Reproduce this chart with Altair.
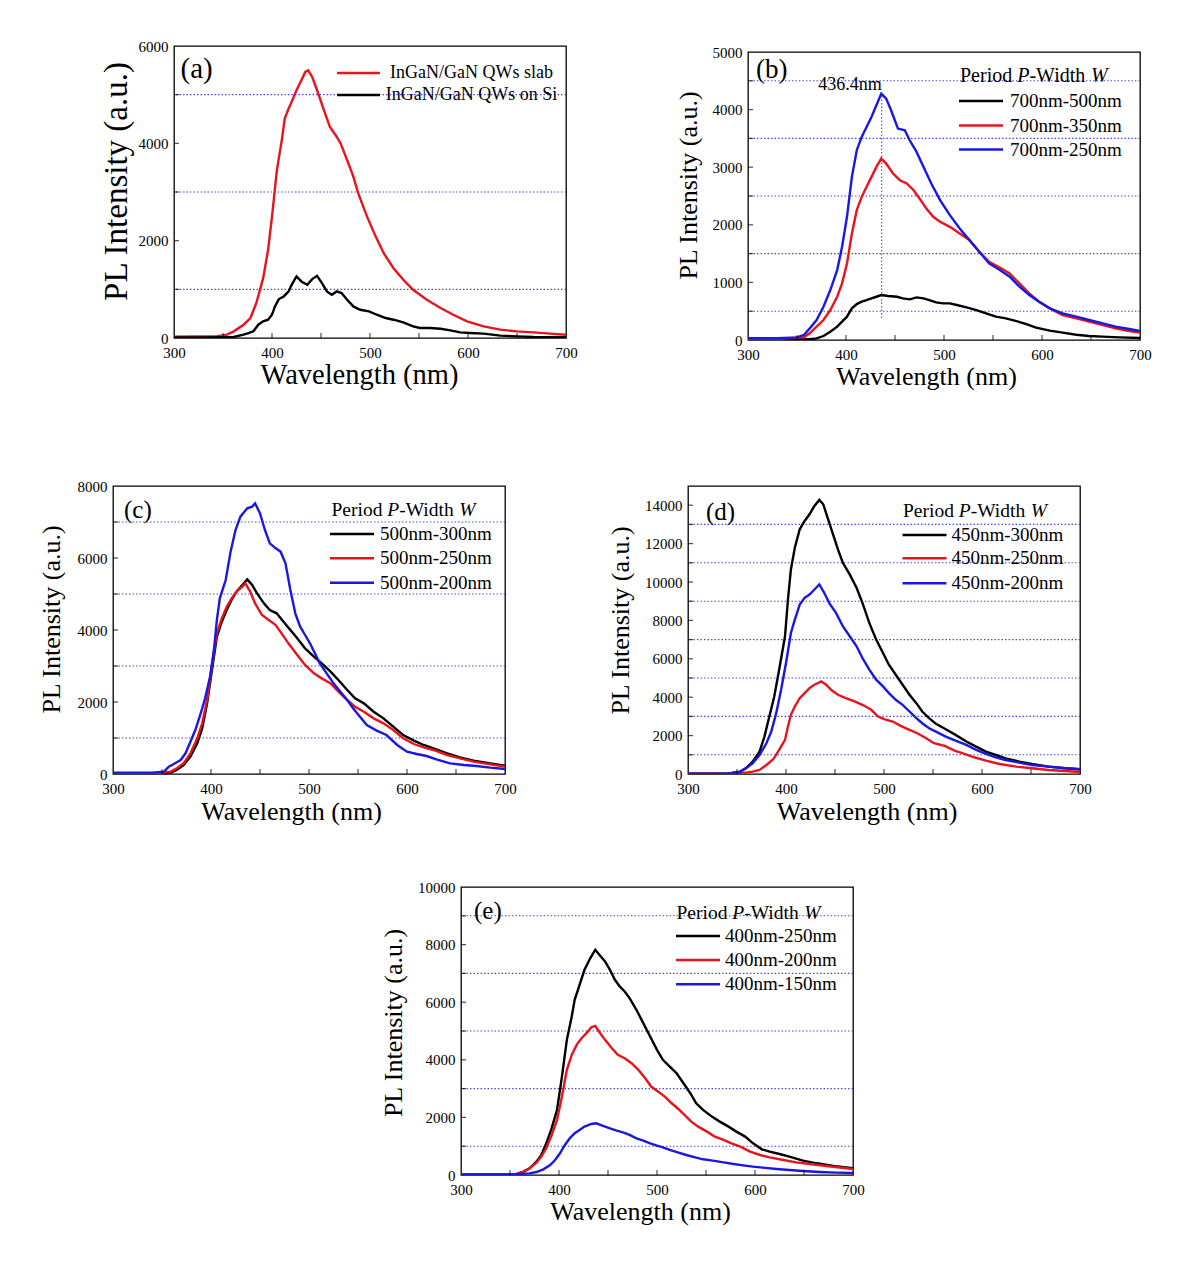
import altair as alt
import pandas as pd

FONT = "Liberation Serif"
RED = "#e8141c"
BLUE = "#1818e0"
BLACK = "#000000"
GRID = "#4a4ad0"

X_LABELS = [300, 400, 500, 600, 700]
X_TICKS = [350, 400, 450, 500, 550, 600, 650]

# ---------------- panel (a) ----------------
A_NAMES = ["InGaN/GaN QWs slab", "InGaN/GaN QWs on Si"]
A_WL_SLAB = [300, 320, 343, 354, 361, 371, 378, 384, 391, 396, 400, 405, 410, 413, 417, 420, 425, 430, 434, 437,
             441, 446, 453, 459, 466, 470, 476, 483, 488, 497, 505, 514, 524, 534, 544, 558, 572, 585, 599, 616,
             633, 650, 667, 684, 700]
A_SLAB = [25, 30, 30, 70, 137, 273, 410, 718, 1230, 1811, 2494, 3451, 4066, 4510, 4716, 4852, 5091, 5296, 5467, 5501,
          5365, 5091, 4681, 4340, 4135, 3998, 3690, 3315, 2973, 2494, 2119, 1743, 1435, 1196, 991, 786, 615, 478, 342, 239,
          171, 137, 116, 89, 68]
A_WL_SI = [300, 330, 361, 371, 376, 381, 386, 391, 396, 400, 403, 407, 412, 417, 420, 425, 430, 436, 441, 446,
           451, 456, 461, 466, 471, 476, 483, 490, 499, 507, 516, 524, 534, 544, 551, 561, 572, 582, 592, 602,
           616, 633, 650, 667, 700]
A_SI = [10, 10, 20, 68, 100, 137, 273, 342, 376, 478, 649, 800, 854, 957, 1093, 1264, 1162, 1093, 1210, 1278,
        1128, 957, 888, 957, 923, 800, 649, 581, 547, 478, 410, 376, 321, 239, 205, 205, 191, 157, 116, 103,
        89, 48, 34, 20, 14]
A_Y_LABELS = [0, 2000, 4000, 6000]
A_GRID = [1000, 3000, 5000]

# ---------------- panel (b) ----------------
B_NAMES = ["700nm-500nm", "700nm-350nm", "700nm-250nm"]
B_WL_500 = [300, 340, 363, 370, 377, 384, 391, 396, 401, 406, 411, 416, 421, 426, 431, 436, 443, 452, 458, 465,
            472, 479, 485, 492, 499, 506, 513, 523, 533, 543, 553, 563, 574, 584, 594, 608, 621, 635, 648, 662,
            679, 700]
B_500 = [15, 15, 12, 29, 69, 145, 231, 318, 405, 549, 624, 665, 694, 722, 751, 780, 763, 751, 722, 705,
         740, 722, 694, 653, 636, 636, 607, 566, 520, 462, 405, 376, 329, 277, 214, 162, 127, 92, 69, 58,
         46, 35]
B_WL_350 = [300, 330, 357, 363, 370, 377, 384, 391, 396, 401, 406, 411, 416, 421, 426, 431, 436, 441, 448, 455,
            462, 469, 475, 482, 489, 496, 506, 516, 526, 536, 546, 557, 567, 577, 587, 597, 608, 621, 635, 648,
            662, 675, 689, 700]
B_350 = [20, 20, 46, 116, 231, 347, 520, 751, 983, 1329, 1850, 2254, 2485, 2659, 2832, 3006, 3150, 3063, 2890, 2774,
         2717, 2601, 2457, 2283, 2139, 2052, 1965, 1850, 1734, 1532, 1358, 1260, 1156, 983, 809, 665, 549, 433, 376, 318,
         260, 202, 156, 127]
B_WL_250 = [300, 330, 350, 357, 363, 370, 377, 384, 391, 396, 401, 406, 411, 416, 421, 426, 431, 436, 441, 446,
            453, 460, 465, 472, 479, 487, 496, 506, 516, 526, 536, 546, 557, 567, 577, 587, 597, 608, 621, 635,
            648, 662, 675, 689, 700]
B_250 = [30, 30, 46, 87, 202, 347, 578, 867, 1214, 1618, 2139, 2832, 3295, 3526, 3699, 3873, 4075, 4277, 4191, 3988,
         3670, 3641, 3468, 3266, 3006, 2717, 2428, 2168, 1936, 1734, 1532, 1329, 1214, 1098, 925, 780, 665, 549, 462, 405,
         347, 289, 231, 191, 156]
B_Y_LABELS = [0, 1000, 2000, 3000, 4000, 5000]
B_GRID = [500, 1500, 2500, 3500, 4500]
B_PEAK_WL = [436.4]
B_PEAK_LOW = [380]
B_PEAK_HIGH = [4290]
B_PEAK_TEXT = ["436.4nm"]
B_PEAK_TEXT_Y = [4340]

# ---------------- panel (c) ----------------
C_NAMES = ["500nm-300nm", "500nm-250nm", "500nm-200nm"]
C_WL_300 = [300, 340, 359, 365, 372, 379, 386, 391, 396, 399, 403, 406, 411, 416, 421, 426, 432, 437, 442, 447,
            454, 460, 467, 474, 481, 488, 496, 505, 513, 522, 530, 539, 547, 556, 566, 576, 586, 596, 607, 617,
            627, 641, 654, 668, 685, 700]
C_300 = [10, 10, 37, 111, 250, 481, 852, 1268, 1963, 2518, 3259, 3815, 4231, 4555, 4833, 5065, 5250, 5407, 5250, 5018,
         4740, 4555, 4463, 4231, 4000, 3768, 3491, 3259, 3074, 2843, 2611, 2333, 2102, 1963, 1731, 1546, 1315, 1083, 926, 806,
         713, 574, 463, 370, 296, 231]
C_WL_250 = [300, 340, 359, 365, 372, 379, 386, 391, 396, 399, 403, 406, 411, 416, 421, 426, 432, 435, 440, 445,
            452, 459, 466, 472, 479, 488, 496, 505, 513, 522, 530, 539, 547, 556, 566, 576, 586, 596, 607, 617,
            627, 641, 654, 668, 685, 700]
C_250 = [10, 10, 65, 157, 296, 574, 991, 1407, 2055, 2611, 3398, 3907, 4324, 4648, 4880, 5065, 5204, 5296, 5065, 4740,
         4417, 4278, 4139, 3907, 3630, 3306, 3028, 2796, 2657, 2518, 2287, 2055, 1870, 1731, 1546, 1407, 1222, 991, 833, 741,
         667, 528, 435, 343, 269, 204]
C_WL_200 = [300, 340, 352, 357, 362, 369, 374, 379, 384, 389, 394, 399, 403, 406, 409, 415, 420, 425, 430, 437,
            442, 445, 450, 455, 460, 466, 471, 476, 481, 486, 491, 496, 501, 506, 511, 518, 525, 532, 539, 545,
            552, 559, 569, 579, 590, 600, 610, 620, 630, 644, 658, 671, 685, 700]
C_200 = [37, 37, 65, 204, 278, 389, 574, 898, 1222, 1639, 2102, 2704, 3444, 4278, 4880, 5389, 6176, 6778, 7148, 7379,
         7426, 7518, 7241, 6778, 6407, 6268, 6176, 5852, 5111, 4463, 4092, 3861, 3630, 3352, 3074, 2796, 2518, 2287, 2055, 1824,
         1593, 1361, 1204, 1083, 806, 620, 556, 500, 407, 296, 250, 222, 176, 139]
C_Y_LABELS = [0, 2000, 4000, 6000, 8000]
C_GRID = [1000, 3000, 5000, 7000]

# ---------------- panel (d) ----------------
D_NAMES = ["450nm-300nm", "450nm-250nm", "450nm-200nm"]
D_WL_300 = [300, 340, 353, 359, 366, 373, 378, 383, 388, 393, 399, 402, 405, 409, 414, 419, 424, 429, 434, 438,
            443, 448, 453, 458, 465, 472, 478, 485, 492, 499, 505, 512, 519, 526, 533, 539, 546, 553, 563, 573,
            584, 594, 604, 614, 624, 638, 651, 668, 685, 700]
D_300 = [20, 20, 122, 296, 644, 1166, 1950, 2995, 4039, 5432, 7173, 9088, 10655, 11787, 12744, 13179, 13528, 13963, 14276, 14050,
         13266, 12483, 11700, 11003, 10394, 9697, 8914, 7869, 6999, 6302, 5693, 5171, 4648, 4126, 3691, 3256, 2907, 2612, 2333, 2037,
         1689, 1428, 1166, 992, 818, 644, 522, 383, 296, 244]
D_WL_250 = [300, 350, 359, 366, 373, 380, 387, 393, 399, 402, 405, 409, 414, 419, 424, 429, 436, 441, 446, 453,
            461, 470, 478, 487, 494, 500, 509, 517, 526, 534, 543, 551, 562, 572, 582, 592, 604, 618, 635, 651,
            668, 685, 700]
D_250 = [10, 10, 70, 122, 209, 470, 766, 1254, 1776, 2472, 3082, 3517, 3952, 4213, 4474, 4648, 4822, 4648, 4387, 4126,
         3952, 3778, 3604, 3343, 2995, 2855, 2733, 2507, 2298, 2124, 1863, 1602, 1462, 1219, 1045, 871, 696, 522, 383, 296,
         209, 157, 104]
D_WL_200 = [300, 340, 353, 359, 366, 373, 380, 385, 390, 395, 400, 405, 409, 414, 419, 424, 429, 434, 439, 444,
            451, 458, 465, 472, 478, 485, 492, 499, 505, 512, 519, 526, 533, 539, 546, 553, 563, 573, 584, 594,
            604, 614, 624, 638, 651, 668, 685, 700]
D_200 = [20, 20, 104, 296, 557, 992, 1602, 2211, 3169, 4387, 5780, 7347, 8043, 8827, 9175, 9349, 9610, 9871, 9436, 8914,
         8392, 7695, 7173, 6651, 6041, 5432, 4910, 4561, 4213, 3865, 3604, 3256, 2907, 2646, 2385, 2211, 1950, 1741, 1515, 1254,
         1045, 871, 731, 592, 470, 383, 296, 244]
D_Y_LABELS = [0, 2000, 4000, 6000, 8000, 10000, 12000, 14000]
D_GRID = [1000, 3000, 5000, 7000, 9000, 11000, 13000]

# ---------------- panel (e) ----------------
E_NAMES = ["400nm-250nm", "400nm-200nm", "400nm-150nm"]
E_WL_250 = [300, 340, 357, 364, 370, 377, 382, 387, 392, 398, 403, 408, 413, 416, 421, 426, 432, 437, 442, 447,
            452, 457, 462, 467, 472, 479, 486, 493, 500, 506, 513, 520, 527, 534, 540, 547, 556, 564, 573, 581,
            590, 598, 607, 615, 625, 635, 649, 663, 680, 700]
E_250 = [25, 25, 35, 116, 232, 463, 695, 1101, 1564, 2259, 3418, 4693, 5504, 6083, 6605, 7126, 7532, 7821, 7613, 7416,
         7126, 6778, 6547, 6373, 6141, 5736, 5272, 4809, 4345, 3998, 3766, 3534, 3186, 2839, 2491, 2259, 2028, 1854, 1680, 1506,
         1333, 1101, 892, 811, 730, 637, 498, 406, 313, 232]
E_WL_200 = [300, 340, 357, 364, 370, 377, 382, 387, 392, 398, 403, 408, 413, 418, 423, 428, 433, 437, 442, 447,
            454, 460, 467, 474, 481, 488, 494, 501, 508, 515, 522, 528, 535, 542, 551, 559, 568, 576, 585, 595,
            605, 615, 629, 642, 656, 673, 700]
E_200 = [25, 25, 35, 116, 232, 429, 637, 927, 1333, 1912, 2723, 3650, 4171, 4519, 4751, 4924, 5133, 5179, 4924, 4693,
         4403, 4171, 4056, 3882, 3650, 3360, 3071, 2897, 2723, 2491, 2283, 2086, 1854, 1680, 1506, 1333, 1217, 1101, 985, 811,
         695, 614, 521, 440, 382, 313, 209]
E_WL_150 = [300, 350, 370, 377, 384, 391, 396, 401, 406, 411, 416, 421, 426, 433, 438, 445, 452, 459, 466, 472,
            479, 486, 493, 500, 506, 513, 522, 530, 539, 547, 557, 568, 578, 588, 598, 608, 622, 635, 649, 666,
            683, 700]
E_150 = [20, 20, 58, 104, 197, 348, 521, 753, 1043, 1275, 1448, 1564, 1680, 1773, 1796, 1703, 1622, 1541, 1472, 1390,
         1275, 1193, 1101, 1020, 962, 869, 776, 695, 614, 545, 498, 440, 382, 336, 290, 255, 209, 174, 139, 104,
         81, 70]
E_Y_LABELS = [0, 2000, 4000, 6000, 8000, 10000]
E_GRID = [1000, 3000, 5000, 7000, 9000]

W = 392


def text_layer(txt, x, y, size, align="left", baseline="alphabetic", style="normal"):
    return alt.Chart(pd.DataFrame({"t": [txt]})).mark_text(
        font=FONT, fontSize=size, align=align, baseline=baseline, color="black", fontStyle=style
    ).encode(text="t:N", x=alt.value(x), y=alt.value(y))


def legend_title(x, y, size):
    # "Period P-Width W" with italic P and W
    parts = [("Period ", "normal", 2.861), ("P", "italic", 0.611),
             ("-Width ", "normal", 3.083), ("W", "italic", 0.833)]
    layers = []
    cx = x
    for txt, st, em in parts:
        layers.append(text_layer(txt, cx, y, size, style=st))
        cx += em * size
    return layers


def legend_entry(label, color, x0, x1, yc, size, tx, talign="left"):
    rule = alt.Chart(pd.DataFrame({"t": [label]})).mark_rule(color=color, strokeWidth=2.5).encode(
        x=alt.value(x0), x2=alt.value(x1), y=alt.value(yc))
    txt = text_layer(label, tx, yc, size, align=talign, baseline="middle")
    return [rule, txt]


def panel(series, ymax, ylabels, grids, h, cfg, extra=None):
    xs = alt.Scale(domain=[300, 700], nice=False, zero=False)
    ys = alt.Scale(domain=[0, ymax], nice=False, zero=True)
    xaxis = alt.Axis(values=X_LABELS, title="Wavelength (nm)", titleFont=FONT, titleFontSize=cfg["xts"],
                     titleFontWeight="normal", titleColor="black", titleBaseline="alphabetic",
                     titleX=cfg["txx"], titleY=cfg["txy"], labelFont=FONT, labelFontSize=15,
                     labelColor="black", labelPadding=7, labelFlush=False, ticks=False, domain=False,
                     grid=False, format="d")
    yaxis = alt.Axis(values=ylabels, title="PL Intensity (a.u.)", titleFont=FONT, titleFontSize=cfg["yts"],
                     titleFontWeight="normal", titleColor="black", titleBaseline="alphabetic",
                     titleX=cfg["tyx"], titleY=cfg["tyy"], labelFont=FONT, labelFontSize=15,
                     labelColor="black", labelPadding=6, labelFlush=False, ticks=False, domain=False,
                     grid=False, format="d")
    layers = []
    layers.append(alt.Chart(pd.DataFrame({"val": grids})).mark_rule(
        color=GRID, strokeDash=[1.5, 2], strokeWidth=1.1).encode(y=alt.Y("val:Q", scale=ys, axis=yaxis)))
    for wl, vals, color in series:
        df = pd.DataFrame({"wl": wl, "val": vals})
        layers.append(alt.Chart(df).mark_line(color=color, strokeWidth=2.4, clip=True).encode(
            x=alt.X("wl:Q", scale=xs, axis=xaxis), y=alt.Y("val:Q", scale=ys, axis=yaxis)))
    if extra:
        layers.extend(extra(xs, ys))
    layers.append(alt.Chart(pd.DataFrame({"wl": X_TICKS})).mark_tick(
        color="black", size=5, thickness=1.2, orient="vertical").encode(
        x=alt.X("wl:Q", scale=xs), y=alt.value(h - 2.5)))
    layers.append(alt.Chart(pd.DataFrame({"val": [v for v in ylabels if 0 < v < ymax] + grids})).mark_tick(
        color="black", size=5, thickness=1.2, orient="horizontal").encode(
        y=alt.Y("val:Q", scale=ys), x=alt.value(2.5)))
    layers.append(text_layer(cfg["letter"], cfg["lx"], cfg["ly"], cfg["ls"]))
    layers.extend(cfg["legend"])
    return alt.layer(*layers).properties(width=W, height=h)


def b_extra(xs, ys):
    rule = alt.Chart(pd.DataFrame({"wl": B_PEAK_WL, "val": B_PEAK_LOW, "val2": B_PEAK_HIGH})).mark_rule(
        color=GRID, strokeDash=[1.5, 2], strokeWidth=1.1).encode(
        x=alt.X("wl:Q", scale=xs), y=alt.Y("val:Q", scale=ys), y2="val2:Q")
    txt = alt.Chart(pd.DataFrame({"wl": B_PEAK_WL, "val": B_PEAK_TEXT_Y, "t": B_PEAK_TEXT})).mark_text(
        font=FONT, fontSize=18, align="right", baseline="alphabetic", color="black").encode(
        x=alt.X("wl:Q", scale=xs), y=alt.Y("val:Q", scale=ys), text="t:N")
    return [rule, txt]


def std_legend(names, colors, tx, ty, sx0, rows, lx, size=19.5):
    layers = legend_title(tx, ty, size)
    for n, c, yc in zip(names, colors, rows):
        layers.extend(legend_entry(n, c, sx0, sx0 + 44, yc, 19, lx))
    return layers


a_leg = (legend_entry(A_NAMES[0], RED, 163, 206, 27, 18, 297.5, "center")
         + legend_entry(A_NAMES[1], BLACK, 163, 206, 49, 18, 297.5, "center"))
pa = panel([(A_WL_SLAB, A_SLAB, RED), (A_WL_SI, A_SI, BLACK)], 6000, A_Y_LABELS, A_GRID, 292,
           dict(xts=28.5, txx=185, txy=45, yts=33, tyx=-48, tyy=135, letter="(a)", lx=6.5, ly=32, ls=29,
                legend=a_leg))
pb = panel([(B_WL_500, B_500, BLACK), (B_WL_350, B_350, RED), (B_WL_250, B_250, BLUE)], 5000,
           B_Y_LABELS, B_GRID, 288,
           dict(xts=26, txx=178, txy=44, yts=26, tyx=-51.5, tyy=133, letter="(b)", lx=8, ly=26, ls=27,
                legend=std_legend(B_NAMES, [BLACK, RED, BLUE], 212, 30, 211, [49, 73.5, 97.5], 262, 20)),
           extra=b_extra)
pc = panel([(C_WL_300, C_300, BLACK), (C_WL_250, C_250, RED), (C_WL_200, C_200, BLUE)], 8000,
           C_Y_LABELS, C_GRID, 288,
           dict(xts=26, txx=178, txy=45, yts=26, tyx=-53.5, tyy=133, letter="(c)", lx=11, ly=31.5, ls=25,
                legend=std_legend(C_NAMES, [BLACK, RED, BLUE], 218.5, 30, 217, [48, 72.3, 96.7], 267)))
pd_ = panel([(D_WL_300, D_300, BLACK), (D_WL_250, D_250, RED), (D_WL_200, D_200, BLUE)], 15000,
            D_Y_LABELS, D_GRID, 288,
            dict(xts=26, txx=178.5, txy=45, yts=26, tyx=-60, tyy=134, letter="(d)", lx=18, ly=33.5, ls=25,
                 legend=std_legend(D_NAMES, [BLACK, RED, BLUE], 215, 31, 214.5, [49, 72.3, 97.3], 263.5)))
pe = panel([(E_WL_250, E_250, BLACK), (E_WL_200, E_200, RED), (E_WL_150, E_150, BLUE)], 10000,
           E_Y_LABELS, E_GRID, 288,
           dict(xts=26, txx=179, txy=44.5, yts=26, tyx=-60, tyy=135.5, letter="(e)", lx=13, ly=32, ls=25,
                legend=std_legend(E_NAMES, [BLACK, RED, BLUE], 215.5, 32, 215, [49, 73, 97.3], 264)))


def spacer(w, h):
    return alt.Chart(pd.DataFrame({"t": [0]})).mark_point(opacity=0).encode(
        x=alt.value(0), y=alt.value(0)).properties(width=w, height=h,
                                                   view=alt.ViewBackground(stroke="transparent"))


# with flush bounds, nested concat groups count as zero-size, so spacing acts as an offset
row1 = alt.hconcat(
    spacer(1, 1),
    alt.hconcat(pa, alt.vconcat(spacer(1, 1), pb, spacing=5, bounds="flush"), spacing=182, bounds="flush"),
    spacing=60, bounds="flush")
row2 = alt.hconcat(pc, pd_, spacing=183, bounds="flush")
row3 = alt.hconcat(spacer(1, 1), pe, spacing=347, bounds="flush")

chart = alt.vconcat(
    alt.vconcat(row1, row2, spacing=440, bounds="flush"),
    row3, spacing=841, bounds="flush"
).properties(
    padding={"left": 29, "top": 30, "right": 5, "bottom": 5},
    background="white",
).configure_view(stroke="black", strokeWidth=1.3)

chart.save("out.html", embed_options={"renderer": "svg", "actions": False})
